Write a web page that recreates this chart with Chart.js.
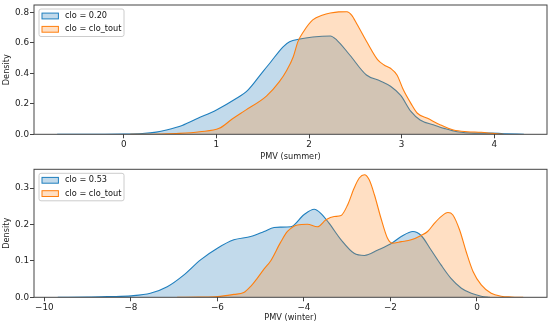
<!DOCTYPE html>
<html><head><meta charset="utf-8">
<script src="https://cdn.jsdelivr.net/npm/chart.js@4/dist/chart.umd.min.js"></script>
<style>
html,body{margin:0;padding:0;background:#fff;}
canvas{position:absolute;left:0;}
#c1{top:0px}
#c2{top:162px}
</style></head><body>
<canvas id="c1" width="550" height="162" style="width:550px;height:162px"></canvas>
<canvas id="c2" width="550" height="162" style="width:550px;height:162px"></canvas>
<script>
// ---------- data ----------
const seriesLabelsSummer = ['clo = 0.20', 'clo = clo_tout'];
const seriesLabelsWinter = ['clo = 0.53', 'clo = clo_tout'];

const summerBlueX = [-0.72, -0.3, 0.0, 0.2, 0.35, 0.46, 0.63, 0.8, 1.0, 1.2, 1.34, 1.5, 1.576, 1.72, 1.79, 1.90, 2.04, 2.23, 2.30, 2.44, 2.62, 2.77, 2.88, 2.99, 3.10, 3.20, 3.35, 3.46, 3.60, 3.78, 3.96, 4.10, 4.32];
const summerBlueY = [0, 0, 0.001, 0.005, 0.014, 0.028, 0.058, 0.105, 0.16, 0.23, 0.29, 0.41, 0.466, 0.574, 0.607, 0.625, 0.638, 0.645, 0.618, 0.52, 0.389, 0.35, 0.315, 0.255, 0.15, 0.094, 0.061, 0.039, 0.017, 0.008, 0.008, 0.004, 0];

const summerOrangeX = [0.07, 0.4, 0.6, 0.82, 1.03, 1.17, 1.32, 1.54, 1.68, 1.76, 1.83, 1.88, 1.94, 2.04, 2.15, 2.23, 2.32, 2.41, 2.46, 2.52, 2.63, 2.74, 2.81, 2.88, 2.95, 3.02, 3.10, 3.17, 3.28, 3.42, 3.56, 3.71, 3.86, 3.98, 4.1];
const summerOrangeY = [0, 0.002, 0.006, 0.017, 0.039, 0.1, 0.16, 0.25, 0.345, 0.42, 0.509, 0.608, 0.673, 0.75, 0.782, 0.795, 0.803, 0.804, 0.782, 0.72, 0.6, 0.49, 0.455, 0.433, 0.389, 0.29, 0.203, 0.138, 0.105, 0.061, 0.028, 0.017, 0.013, 0.006, 0];

const winterBlueX = [-9.69, -9.0, -8.5, -7.99, -7.55, -7.16, -6.78, -6.39, -6.0, -5.62, -5.23, -4.92, -4.69, -4.54, -4.30, -4.0, -3.76, -3.61, -3.42, -3.14, -2.84, -2.60, -2.29, -1.99, -1.75, -1.48, -1.29, -1.06, -0.83, -0.60, -0.36, -0.13, 0.1, 0.3];
const winterBlueY = [0, 0.0005, 0.002, 0.004, 0.011, 0.029, 0.061, 0.103, 0.135, 0.158, 0.167, 0.181, 0.192, 0.193, 0.194, 0.227, 0.242, 0.231, 0.204, 0.158, 0.121, 0.115, 0.130, 0.147, 0.167, 0.181, 0.17, 0.13, 0.089, 0.052, 0.025, 0.011, 0.003, 0];

const winterOrangeX = [-6.93, -6.4, -6.0, -5.62, -5.39, -5.23, -5.08, -4.92, -4.77, -4.54, -4.38, -4.15, -3.92, -3.69, -3.49, -3.30, -3.14, -2.99, -2.84, -2.72, -2.60, -2.49, -2.37, -2.22, -2.07, -1.96, -1.75, -1.52, -1.29, -1.14, -0.98, -0.83, -0.67, -0.56, -0.40, -0.25, -0.09, 0.1, 0.33, 0.56, 0.8, 1.07];
const winterOrangeY = [0, 0.0005, 0.002, 0.008, 0.013, 0.03, 0.052, 0.078, 0.1, 0.151, 0.181, 0.199, 0.201, 0.194, 0.213, 0.222, 0.225, 0.254, 0.30, 0.328, 0.337, 0.323, 0.282, 0.218, 0.163, 0.149, 0.153, 0.158, 0.17, 0.181, 0.204, 0.222, 0.233, 0.227, 0.185, 0.126, 0.071, 0.034, 0.011, 0.003, 0.001, 0];

const summerXTicks = [0, 1, 2, 3, 4];
const summerYTicks = [0.0, 0.2, 0.4, 0.6, 0.8];
const winterXTicks = [-10, -8, -6, -4, -2, 0];
const winterYTicks = [0.0, 0.1, 0.2, 0.3];
const summerXTitle = 'PMV (summer)';
const winterXTitle = 'PMV (winter)';
const yTitle = 'Density';

// ---------- styling ----------
const BLUE = '#1f7fbe', ORANGE = '#ff7f0e';
const BLUE_FILL = 'rgba(31,119,180,0.27)', ORANGE_FILL = 'rgba(255,127,14,0.25)';
const FONT = 'DejaVu Sans';
Chart.defaults.font.family = FONT;
Chart.defaults.font.size = 8.2;
Chart.defaults.color = '#222';
const TICK_FONT = {family: FONT, size: 8.8};

const fmtMinus = v => (v < 0 ? '\u2212' + Math.abs(v) : String(v));
const pts = (xs, ys) => xs.map((x, i) => ({x: x, y: ys[i]}));

const framePlugin = {
  id: 'frame',
  afterDatasetsDraw(chart) {
    const {ctx, chartArea: a} = chart;
    ctx.save();
    ctx.strokeStyle = '#444';
    ctx.lineWidth = 1;
    ctx.strokeRect(a.left, a.top, a.right - a.left, a.bottom - a.top);
    // legend
    const ds = chart.data.datasets;
    const bx = a.left + 5, by = a.top + 4, bw = 85, bh = 27.5;
    ctx.beginPath();
    ctx.roundRect(bx, by, bw, bh, 2);
    ctx.fillStyle = 'rgba(255,255,255,0.8)';
    ctx.fill();
    ctx.strokeStyle = '#cccccc';
    ctx.stroke();
    const items = [ds.find(d => d.legendIdx === 0), ds.find(d => d.legendIdx === 1)];
    items.forEach((d, k) => {
      const cy = by + 7 + k * 13.3;
      ctx.fillStyle = '#fff';
      ctx.fillRect(bx + 3, cy - 2.9, 16.4, 5.8);
      ctx.fillStyle = d.backgroundColor;
      ctx.fillRect(bx + 3, cy - 2.9, 16.4, 5.8);
      ctx.strokeStyle = d.borderColor;
      ctx.lineWidth = 1;
      ctx.strokeRect(bx + 3, cy - 2.9, 16.4, 5.8);
      ctx.fillStyle = '#111';
      ctx.font = '8.2px "' + FONT + '"';
      ctx.textBaseline = 'middle';
      ctx.textAlign = 'left';
      ctx.fillText(d.label, bx + 26, cy);
    });
    ctx.restore();
  }
};

function makeChart(id, o) {
  return new Chart(document.getElementById(id), {
    type: 'line',
    data: {
      datasets: [
        {label: o.labels[0], legendIdx: 0, data: pts(o.bx, o.by), borderColor: BLUE, backgroundColor: BLUE_FILL,
         fill: 'origin', borderWidth: 1.1, pointRadius: 0, cubicInterpolationMode: 'monotone', order: 2},
        {label: o.labels[1], legendIdx: 1, data: pts(o.ox, o.oy), borderColor: ORANGE, backgroundColor: ORANGE_FILL,
         fill: 'origin', borderWidth: 1.1, pointRadius: 0, cubicInterpolationMode: 'monotone', order: 1}
      ]
    },
    options: {
      responsive: false,
      animation: false,
      events: [],
      layout: {padding: {left: 0, right: 3, top: o.padTop, bottom: 0}},
      plugins: {legend: {display: false}, tooltip: {enabled: false}},
      scales: {
        x: {
          type: 'linear', min: o.xMin, max: o.xMax,
          afterBuildTicks: s => { s.ticks = o.xTicks.map(v => ({value: v})); },
          afterFit: s => { s.height = o.xHeight; s.paddingLeft = 0; s.paddingRight = 0; },
          ticks: {callback: v => fmtMinus(v), padding: 1, maxRotation: 0, autoSkip: false, color: '#222', font: TICK_FONT},
          grid: {display: true, drawOnChartArea: false, drawTicks: true, tickLength: 4, color: '#444'},
          border: {display: false},
          title: {display: true, text: o.xTitle, padding: {top: 0, bottom: o.titlePad}, color: '#222'}
        },
        y: {
          type: 'linear', min: 0, max: o.yMax,
          afterBuildTicks: s => { s.ticks = o.yTicks.map(v => ({value: v})); },
          afterFit: s => { s.width = 34; s.paddingTop = 0; s.paddingBottom = 0; },
          ticks: {callback: v => v.toFixed(1), padding: 1, autoSkip: false, color: '#222', font: TICK_FONT},
          grid: {display: true, drawOnChartArea: false, drawTicks: true, tickLength: 4, color: '#444'},
          border: {display: false},
          title: {display: true, text: yTitle, padding: {top: 2, bottom: 0}, color: '#222'}
        }
      }
    },
    plugins: [framePlugin]
  });
}

makeChart('c1', {
  labels: seriesLabelsSummer, bx: summerBlueX, by: summerBlueY, ox: summerOrangeX, oy: summerOrangeY,
  xMin: -0.97, xMax: 4.57, yMax: 0.848, xTicks: summerXTicks, yTicks: summerYTicks,
  xTitle: summerXTitle, padTop: 5, xHeight: 27.7, titlePad: 0
});
makeChart('c2', {
  labels: seriesLabelsWinter, bx: winterBlueX, by: winterBlueY, ox: winterOrangeX, oy: winterOrangeY,
  xMin: -10.24, xMax: 1.62, yMax: 0.352, xTicks: winterXTicks, yTicks: winterYTicks,
  xTitle: winterXTitle, padTop: 7.3, xHeight: 26.7, titlePad: 1
});
</script>
</body></html>
